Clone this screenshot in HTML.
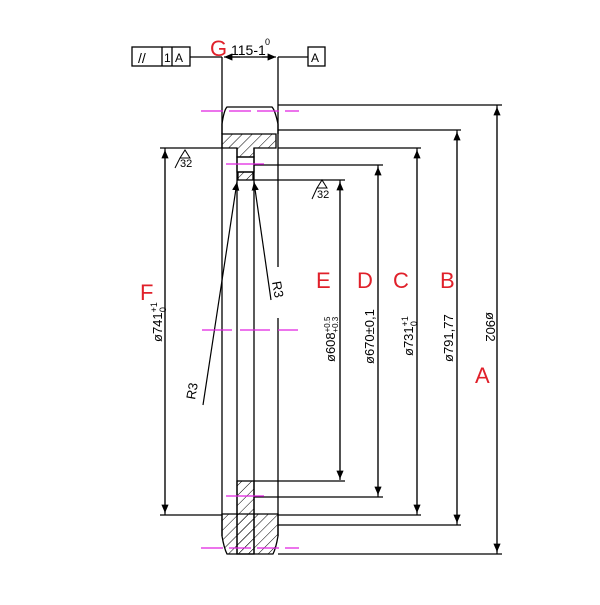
<!DOCTYPE html>
<html><head><style>body{margin:0;background:#fff}</style></head><body>
<svg width="600" height="600" viewBox="0 0 600 600" xmlns="http://www.w3.org/2000/svg" font-family="Liberation Sans, sans-serif">
<defs>
<pattern id="h" width="7" height="7" patternUnits="userSpaceOnUse" patternTransform="rotate(45)">
<line x1="0" y1="0" x2="0" y2="7" stroke="#000" stroke-width="1"/></pattern>
<marker id="ar" markerWidth="8" markerHeight="8" refX="7" refY="3" orient="auto"><path d="M0,0 L7,3 L0,6z" fill="#000"/></marker>
</defs>
<g stroke="#000" stroke-width="1.3" fill="none">
<line x1="222" y1="130" x2="222" y2="536"/>
<line x1="237" y1="148" x2="237" y2="481"/>
<line x1="254" y1="148" x2="254" y2="481"/>
<line x1="278" y1="130" x2="278" y2="267"/>
<line x1="278" y1="318" x2="278" y2="536"/>
<path d="M222,134 L222,124 Q224,110 227,107 L272,107 Q275,110 278,124 L278,134"/>
<path d="M222,134 L276,134 L276,148 L254,148 L254,157 L237,157 L237,148 L222,148 Z" fill="url(#h)"/>
<rect x="237" y="157" width="17" height="15"/>
<rect x="238" y="172" width="15" height="8" fill="url(#h)"/>
<rect x="237" y="481" width="17" height="73" fill="url(#h)"/>
<path d="M222,514 L278,514 L278,536 Q276,548 273,554 L227,554 Q224,548 222,536 Z" fill="url(#h)"/>
<line x1="237" y1="481" x2="237" y2="554"/><line x1="254" y1="481" x2="254" y2="554"/>
<line x1="222" y1="57" x2="222" y2="130"/>
<line x1="278" y1="57" x2="278" y2="130"/>
<line x1="190" y1="57" x2="222" y2="57"/>
<line x1="278" y1="57" x2="308" y2="57"/>
<line x1="230" y1="57" x2="270" y2="57"/>
<rect x="132" y="47" width="58" height="19"/>
<line x1="162" y1="47" x2="162" y2="66"/><line x1="172" y1="47" x2="172" y2="66"/>
<rect x="308" y="47" width="17" height="19"/>
</g>
<g stroke="#000" stroke-width="1.2">
<line x1="278" y1="105" x2="502" y2="105"/>
<line x1="278" y1="130" x2="461" y2="130"/>
<line x1="160" y1="148" x2="222" y2="148"/>
<line x1="278" y1="148" x2="421" y2="148"/>
<line x1="254" y1="165" x2="383" y2="165"/>
<line x1="254" y1="180" x2="345" y2="180"/>
<line x1="254" y1="481" x2="345" y2="481"/>
<line x1="254" y1="497" x2="383" y2="497"/>
<line x1="160" y1="515" x2="222" y2="515"/>
<line x1="278" y1="515" x2="421" y2="515"/>
<line x1="278" y1="525" x2="461" y2="525"/>
<line x1="278" y1="554" x2="502" y2="554"/>
<line x1="165" y1="515" x2="165" y2="150" marker-end="url(#ar)"/>
<line x1="165" y1="148" x2="165" y2="513" marker-end="url(#ar)"/>
<line x1="340" y1="480" x2="340" y2="182" marker-end="url(#ar)"/>
<line x1="340" y1="180" x2="340" y2="479" marker-end="url(#ar)"/>
<line x1="378" y1="497" x2="378" y2="167" marker-end="url(#ar)"/>
<line x1="378" y1="165" x2="378" y2="495" marker-end="url(#ar)"/>
<line x1="417" y1="515" x2="417" y2="150" marker-end="url(#ar)"/>
<line x1="417" y1="148" x2="417" y2="513" marker-end="url(#ar)"/>
<line x1="457" y1="525" x2="457" y2="132" marker-end="url(#ar)"/>
<line x1="457" y1="130" x2="457" y2="523" marker-end="url(#ar)"/>
<line x1="497" y1="554" x2="497" y2="107" marker-end="url(#ar)"/>
<line x1="497" y1="105" x2="497" y2="552" marker-end="url(#ar)"/>
<line x1="240" y1="57" x2="224" y2="57" marker-end="url(#ar)"/>
<line x1="262" y1="57" x2="276" y2="57" marker-end="url(#ar)"/>
<line x1="203" y1="405" x2="237" y2="182" marker-end="url(#ar)"/>
<line x1="271" y1="300" x2="254" y2="182" marker-end="url(#ar)"/>
</g>
<g stroke="#e020e0" stroke-width="1.2">
<line x1="201" y1="111" x2="299" y2="111" stroke-dasharray="22,6"/>
<line x1="226" y1="164" x2="264" y2="164"/>
<line x1="202" y1="330" x2="298" y2="330" stroke-dasharray="30,8"/>
<line x1="226" y1="496" x2="264" y2="496"/>
<line x1="201" y1="548" x2="299" y2="548" stroke-dasharray="22,6"/>
</g>
<g stroke="#000" stroke-width="1" fill="none">
<path d="M180,158 L185,150 L190,158 Z M175,168 L180,158"/>
<path d="M317,188 L322,180 L327,188 Z M312,199 L317,188"/>
</g>
<g font-size="11" fill="#000">
<text x="180" y="167">32</text><text x="317" y="198">32</text>
<text x="138" y="63" font-size="14">//</text><text x="164" y="62" font-size="12">1</text><text x="175" y="62" font-size="12">A</text>
<text x="311" y="62" font-size="12">A</text>
<text x="231" y="55" font-size="14">115-1</text><text x="265" y="45" font-size="9">0</text>
</g>
<g font-size="13" fill="#000">
<text transform="translate(162,342) rotate(-90)">ø741<tspan font-size="9" dy="-5">+1</tspan><tspan font-size="9" dx="-10" dy="9">0</tspan></text>
<text transform="translate(335,362) rotate(-90)">ø608<tspan font-size="8" dy="-5">+0.5</tspan><tspan font-size="8" dx="-16" dy="8">+0.3</tspan></text>
<text transform="translate(374,364) rotate(-90)">ø670±0,1</text>
<text transform="translate(413,356) rotate(-90)">ø731<tspan font-size="9" dy="-5">+1</tspan><tspan font-size="9" dx="-10" dy="9">0</tspan></text>
<text transform="translate(453,362) rotate(-90)">ø791,77</text>
<text transform="translate(486,312) rotate(90)">ø902</text>
<text transform="translate(195,400) rotate(-80)">R3</text>
<text transform="translate(272,282) rotate(80)">R3</text>
</g>
<g font-size="22" fill="#e0202a">
<text x="140" y="300">F</text>
<text x="210" y="56">G</text>
<text x="316" y="288">E</text>
<text x="357" y="288">D</text>
<text x="393" y="288">C</text>
<text x="440" y="288">B</text>
<text x="475" y="383">A</text>
</g>
</svg>
</body></html>
